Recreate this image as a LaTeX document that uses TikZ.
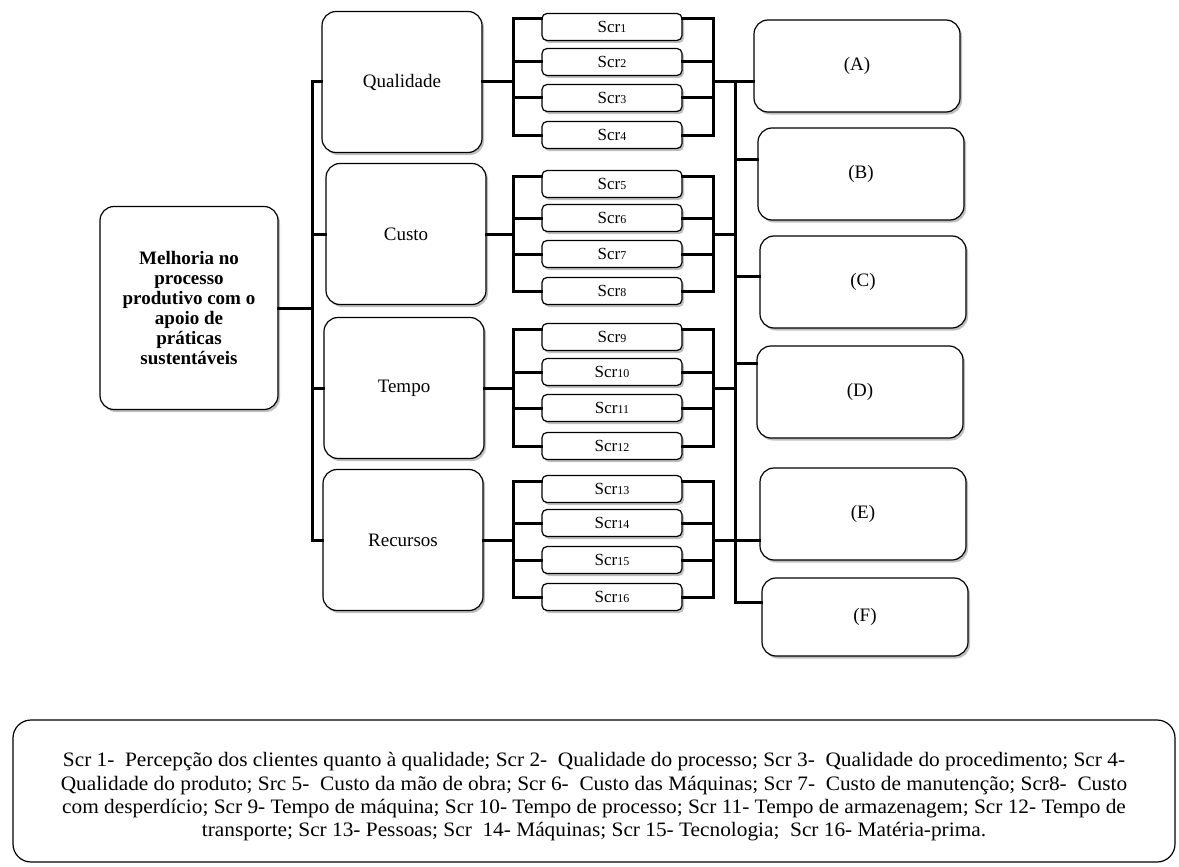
\documentclass[tikz,border=0pt]{standalone}
\usepackage{fontspec}
\setmainfont{Liberation Serif}
\usetikzlibrary{positioning,calc,shadows}
\newfontfamily\legendfont[FakeStretch=1.04]{Liberation Serif}
\newcommand{\scrlab}[1]{Scr{\fontsize{12}{12}\selectfont #1}}

\tikzset{
  boxbase/.style={draw=black, line width=1.2pt, fill=white, rounded corners=14pt,
    drop shadow={shadow xshift=2pt, shadow yshift=-2.5pt, opacity=.5}},
  mainbox/.style={boxbase, minimum width=178pt, minimum height=203pt, align=center,
    font=\fontsize{19}{20}\selectfont\bfseries},
  catbox/.style={boxbase, minimum width=160pt, minimum height=141pt, font=\fontsize{19}{20}\selectfont},
  scrbox/.style={boxbase, rounded corners=5pt, minimum width=140pt, minimum height=27pt,
    inner sep=0pt, font=\fontsize{17}{18}\selectfont},
  outbox/.style={boxbase, minimum width=206pt, minimum height=92pt, font=\fontsize{19}{20}\selectfont},
  legendbox/.style={draw=black, line width=1.2pt, rounded corners=18pt, minimum width=1162pt,
    minimum height=142pt},
  legendtext/.style={align=center, font=\legendfont\fontsize{20.5}{23.3}\selectfont},
  conn/.style={line width=3pt, line cap=rect}
}

\begin{document}
\begin{tikzpicture}[x=1pt,y=-1pt]
	\useasboundingbox (0,0) rectangle (1179,867);
	%% main goal
	\node[mainbox] (goal) at (189,308) {Melhoria no\\processo\\produtivo com o\\apoio de\\práticas\\sustentáveis};
	%% the four criteria
	\node[catbox] (qual) at (402,82) {\raisebox{-8pt}{Qualidade}};
	\node[catbox] (cust) at (406,234) {Custo};
	\node[catbox] (temp) at (404,388) {Tempo};
	\node[catbox] (recu) at (403,540) {Recursos};
	%% sub criteria
	\foreach \n/\y in {1/27,2/62,3/98,4/135,5/184,6/218,7/254,8/291,
	                   9/337,10/372,11/408,12/446,13/489,14/523,15/560,16/597}
		\node[scrbox] (s\n) at (612,\y) {\scrlab{\n}};
	%% alternatives
	\node[outbox] (A) at (857,66) {(A)};
	\node[outbox] (B) at (861,174) {(B)};
	\node[outbox] (C) at (863,282) {(C)};
	\node[outbox] (D) at (860,392) {(D)};
	\node[outbox] (E) at (863,514) {(E)};
	\node[outbox, minimum height=78pt] (F) at (865,617) {(F)};
	%% buses
	\coordinate (busL) at (312,0);
	\coordinate (brL) at (513,0);
	\coordinate (brR) at (713,0);
	\coordinate (busR) at (735,0);
	%% goal to criteria
	\draw[conn] (goal.east) -- (busL |- goal.east);
	\draw[conn] (busL |- qual.west) -- (busL |- recu.west);
	\foreach \c in {qual,cust,temp,recu}
		\draw[conn] (busL |- \c.west) -- (\c.west);
	%% criteria to sub criteria
	\foreach \c/\a/\b/\m in {qual/1/4/{2,3},cust/5/8/{6,7},temp/9/12/{10,11},recu/13/16/{14,15}} {
		\draw[conn] (\c.east) -- (brL |- \c.east);
		\draw[conn] ($(s\a.west)+(0,-8)$) -| (brL |- s\b.west) -- (s\b.west);
		\draw[conn] ($(s\a.east)+(0,-8)$) -| (brR |- s\b.east) -- (s\b.east);
		\foreach \k in \m {
			\draw[conn] (brL |- s\k.west) -- (s\k.west);
			\draw[conn] (s\k.east) -- (brR |- s\k.east);
		}
		\draw[conn] (brR |- \c.east) -- (busR |- \c.east);
	}
	%% sub criteria to alternatives
	\draw[conn] (busR |- qual.east) -- ($(busR |- F.west)+(0,-15)$);
	\draw[conn] (busR |- qual.east) -- (A.west |- qual.east);
	\draw[conn] ($(busR |- B.west)+(0,-15)$) -- ($(B.west)+(0,-15)$);
	\draw[conn] ($(busR |- C.west)+(0,-6)$) -- ($(C.west)+(0,-6)$);
	\draw[conn] ($(busR |- D.west)+(0,-29)$) -- ($(D.west)+(0,-29)$);
	\draw[conn] (busR |- recu.east) -- (E.west |- recu.east);
	\draw[conn] ($(busR |- F.west)+(0,-15)$) -- ($(F.west)+(0,-15)$);
	%% legend
	\node[legendbox] (legend) at (594,791) {};
	\node[legendtext] (legtext) at (594,797)
	{Scr 1-\ \ Percepção dos clientes quanto à qualidade; Scr 2-\ \ Qualidade do processo; Scr 3-\ \ Qualidade do procedimento; Scr 4-\\
	 Qualidade do produto; Src 5-\ \ Custo da mão de obra; Scr 6-\ \ Custo das Máquinas; Scr 7-\ \ Custo de manutenção; Scr8-\ \ Custo\\
	 com desperdício; Scr 9- Tempo de máquina; Scr 10- Tempo de processo; Scr 11- Tempo de armazenagem; Scr 12- Tempo de\\
	 transporte; Scr 13- Pessoas; Scr\ \ 14- Máquinas; Scr 15- Tecnologia;\ \ Scr 16- Matéria-prima.};
\end{tikzpicture}
\end{document}
